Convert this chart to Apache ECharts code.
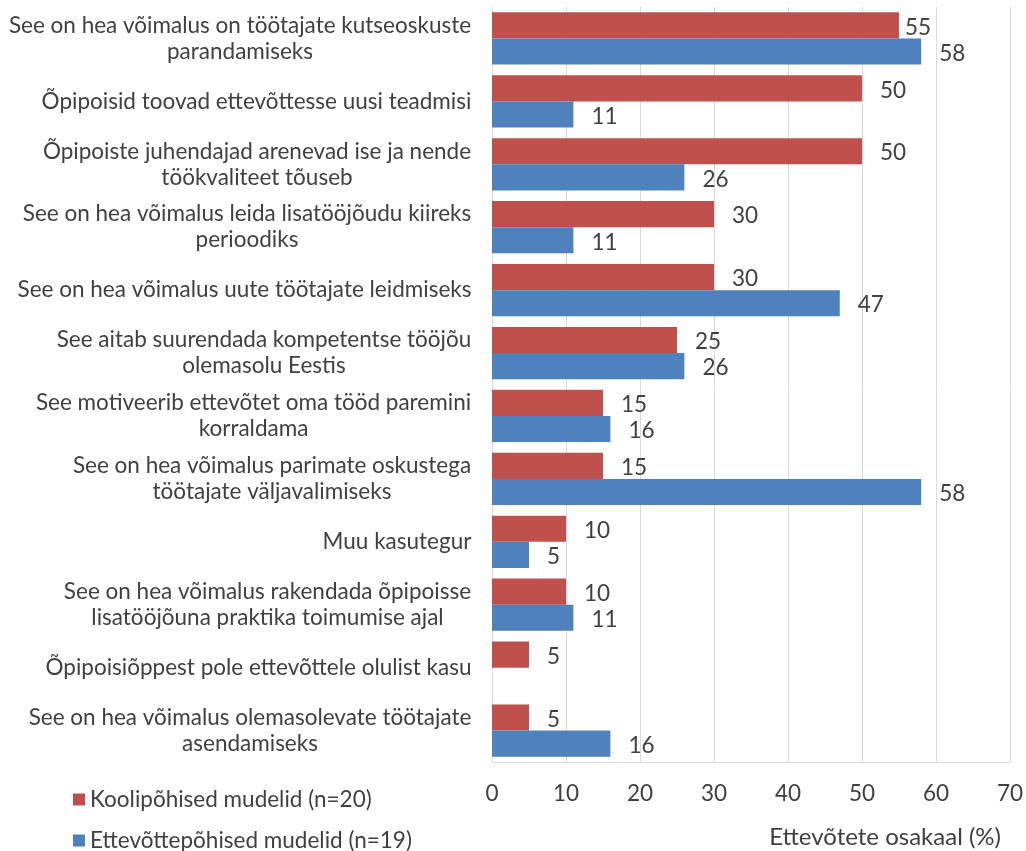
<!DOCTYPE html>
<html><head><meta charset="utf-8">
<script src="https://cdn.jsdelivr.net/npm/echarts@6/dist/echarts.min.js"></script>
<style>html,body{margin:0;padding:0;background:#fff}#c{width:1026px;height:851px}</style>
</head><body><div id="c"></div>
<script>
const categories = [
  "See on hea võimalus on töötajate kutseoskuste\nparandamiseks",
  "Õpipoisid toovad ettevõttesse uusi teadmisi",
  "Õpipoiste juhendajad arenevad ise ja nende\ntöökvaliteet tõuseb",
  "See on hea võimalus leida lisatööjõudu kiireks\nperioodiks",
  "See on hea võimalus uute töötajate leidmiseks",
  "See aitab suurendada kompetentse tööjõu\nolemasolu Eestis",
  "See motiveerib ettevõtet oma tööd paremini\nkorraldama",
  "See on hea võimalus parimate oskustega\ntöötajate väljavalimiseks",
  "Muu kasutegur",
  "See on hea võimalus rakendada õpipoisse\nlisatööjõuna praktika toimumise ajal",
  "Õpipoisiõppest pole ettevõttele olulist kasu",
  "See on hea võimalus olemasolevate töötajate\nasendamiseks"
];
const schoolValues = [55, 50, 50, 30, 30, 25, 15, 15, 10, 10, 5, 5];
const companyValues = [58, 11, 26, 11, 47, 26, 16, 58, 5, 11, null, 16];
const seriesNames = ["Koolipõhised mudelid (n=20)", "Ettevõttepõhised mudelid (n=19)"];
const xTicks = {min: 0, max: 70, interval: 10};
const axisTitle = "Ettevõtete osakaal (%)";

const FONT = "Lato";
const FS = 22.5;
const TXT = "#404040";
const cv = document.createElement('canvas').getContext('2d');
cv.font = FS + "px " + FONT;
const rich = {};
categories.forEach((c, i) => {
  const w = Math.max(...c.split("\n").map(l => cv.measureText(l).width));
  rich['c' + i] = {width: Math.ceil(w) + 1, align: 'center', fontSize: FS, fontFamily: FONT, color: TXT, lineHeight: 26};
});

const labelBase = {show: true, position: 'right', distance: 18, fontSize: FS, color: TXT, fontFamily: FONT, offset: [0, 2]};
// Excel nudged the first red label closer to its bar
const schoolLabelDistance = {0: 6};

const legendBase = {
  orient: 'vertical', left: 68, itemWidth: 12, itemHeight: 12, icon: 'rect',
  textStyle: {fontSize: FS, color: TXT, fontFamily: FONT}
};

const chart = echarts.init(document.getElementById('c'), null, {renderer: 'canvas'});
chart.setOption({
  animation: false,
  textStyle: {fontFamily: FONT},
  grid: {left: 492, right: 16, top: 7, bottom: 89, containLabel: false},
  legend: [
    Object.assign({}, legendBase, {top: 783, data: [seriesNames[0]]}),
    Object.assign({}, legendBase, {top: 824, data: [seriesNames[1]]})
  ],
  title: {
    text: axisTitle, right: 20, top: 820,
    textStyle: {fontSize: 24, color: TXT, fontWeight: 'normal', fontFamily: FONT}
  },
  xAxis: {
    type: 'value', min: xTicks.min, max: xTicks.max, interval: xTicks.interval,
    axisLine: {show: true, lineStyle: {color: '#d9d9d9'}}, axisTick: {show: false},
    splitLine: {lineStyle: {color: '#d9d9d9', width: 1}},
    axisLabel: {fontSize: FS, color: TXT, margin: 20, fontFamily: FONT}
  },
  yAxis: {
    type: 'category', data: categories, inverse: true,
    axisLine: {show: true, lineStyle: {color: '#d9d9d9'}},
    axisTick: {show: false},
    axisLabel: {
      margin: 20, align: 'right',
      formatter: (v, i) => v.split("\n").map(l => '{c' + i + '|' + l + '}').join("\n"),
      rich: rich
    }
  },
  series: [
    {
      name: seriesNames[0], type: 'bar',
      data: schoolValues.map((v, i) => schoolLabelDistance[i] !== undefined
        ? {value: v, label: {distance: schoolLabelDistance[i]}} : v),
      barGap: '0%', barCategoryGap: '17%',
      itemStyle: {color: '#c0504d'},
      label: labelBase
    },
    {
      name: seriesNames[1], type: 'bar', data: companyValues,
      barGap: '0%', barCategoryGap: '17%',
      itemStyle: {color: '#4f81bd'},
      label: labelBase
    }
  ]
});
</script>
</body></html>
